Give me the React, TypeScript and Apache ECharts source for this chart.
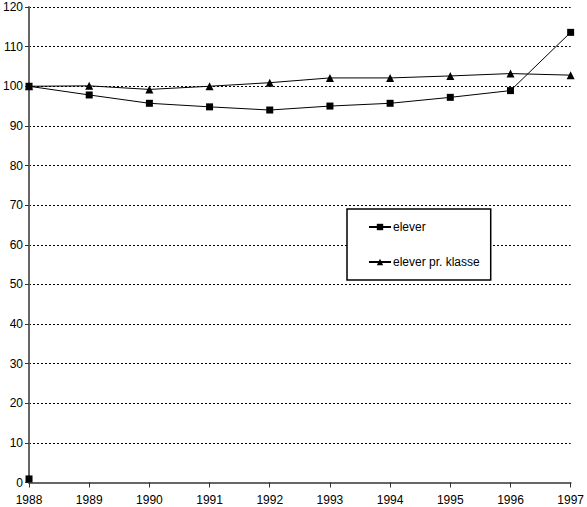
import React, { useEffect, useRef } from "react";
import * as echarts from "echarts";

const years = ["1988", "1989", "1990", "1991", "1992", "1993", "1994", "1995", "1996", "1997"];
const elever = [100, 97.8, 95.7, 94.8, 94.0, 95.0, 95.7, 97.2, 98.9, 113.6];
const eleverPrKlasse = [100, 100.1, 99.2, 100, 100.9, 102.1, 102.1, 102.6, 103.2, 102.8];
const strayPoint = [0.9, null, null, null, null, null, null, null, null, null];
const seriesNames = ["elever", "elever pr. klasse"];
const yMin = 0;
const yMax = 120;
const yStep = 10;

export default function App() {
  const ref = useRef<HTMLDivElement>(null);
  useEffect(() => {
    if (!ref.current) return;
    const chart = echarts.init(ref.current, null, { renderer: "svg" });
    const font = "'Liberation Sans', Arial, Helvetica, sans-serif";
    chart.setOption({
      animation: false,
      backgroundColor: "#ffffff",
      textStyle: { fontFamily: font },
      grid: { left: 26, right: 14, top: 7, bottom: 24.5, containLabel: false },
      legend: {
        data: seriesNames,
        orient: "vertical",
        left: 347,
        top: 209,
        padding: [12, 11, 12, 21],
        itemGap: 23,
        itemWidth: 22,
        itemHeight: 8,
        borderColor: "#000",
        borderWidth: 1.5,
        backgroundColor: "#fff",
        textStyle: { fontFamily: font, fontSize: 12, color: "#000", padding: [0, 0, 0, -3] },
      },
      xAxis: {
        type: "category",
        data: years,
        boundaryGap: false,
        axisLine: { lineStyle: { color: "#666", width: 2 } },
        axisTick: { show: true, length: 5, inside: false, lineStyle: { color: "#333", width: 1 } },
        axisLabel: { color: "#000", fontSize: 12, fontFamily: font, margin: 11, interval: 0 },
        splitLine: { show: false },
      },
      yAxis: {
        type: "value",
        min: yMin,
        max: yMax,
        interval: yStep,
        axisLine: { show: true, lineStyle: { color: "#666", width: 2 } },
        axisTick: { show: true, length: 4, lineStyle: { color: "#333", width: 1 } },
        axisLabel: { color: "#000", fontSize: 12, fontFamily: font, margin: 6 },
        splitLine: { show: true, lineStyle: { color: "#000", type: [2, 2], width: 1 } },
      },
      series: [
        {
          name: seriesNames[0],
          type: "line",
          data: elever,
          symbol: "rect",
          symbolSize: 7,
          itemStyle: { color: "#000" },
          lineStyle: { color: "#000", width: 1 },
          z: 3,
        },
        {
          name: seriesNames[1],
          type: "line",
          data: eleverPrKlasse,
          symbol: "triangle",
          symbolSize: 8,
          itemStyle: { color: "#000" },
          lineStyle: { color: "#000", width: 1 },
          z: 3,
        },
        {
          name: "stray",
          type: "line",
          data: strayPoint,
          symbol: "rect",
          symbolSize: 7,
          showSymbol: true,
          itemStyle: { color: "#000" },
          lineStyle: { width: 0 },
          z: 4,
        },
      ],
    });
    return () => chart.dispose();
  }, []);
  return <div ref={ref} style={{ width: 587, height: 507, position: "absolute", left: 0, top: 0 }} />;
}
